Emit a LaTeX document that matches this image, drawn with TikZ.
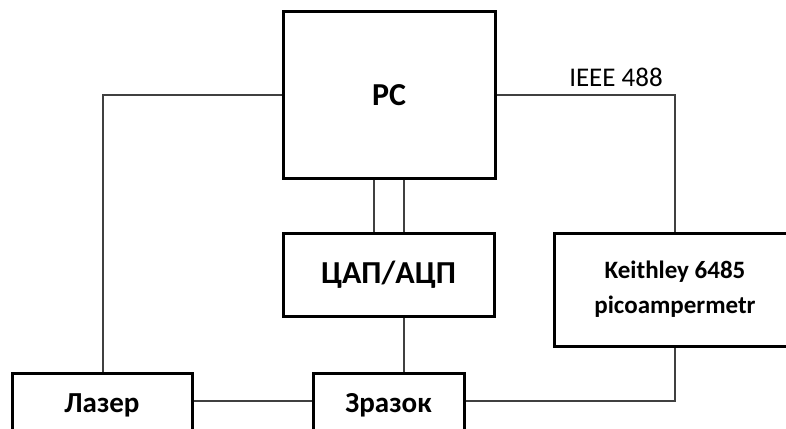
\documentclass[tikz,border=0pt]{standalone}
\usepackage{fontspec}
\setmainfont{Carlito}
\begin{document}
\begin{tikzpicture}[x=1pt,y=-1pt,
  blk/.style={draw=black,line width=3pt,fill=white,inner sep=0pt,font=\bfseries},
  wire/.style={draw=black!75,line width=1.4pt}]
\useasboundingbox (0,0) rectangle (786,428);
\clip (0,0) rectangle (786,428);
\node[blk,minimum width=212pt,minimum height=166pt,font=\bfseries\fontsize{32}{36}\selectfont] (pc) at (389,95) {PC};
\node[blk,minimum width=211pt,minimum height=83pt,font=\bfseries\fontsize{32}{36}\selectfont] (dac) at (388.5,274.5) {ЦАП/АЦП};
\node[blk,minimum width=242pt,minimum height=113pt,align=center,font=\bfseries\fontsize{25}{35}\selectfont] (kei) at (675,289.5) {Keithley 6485\\picoampermetr};
\node[blk,minimum width=180pt,minimum height=64pt,font=\bfseries\fontsize{29}{32}\selectfont] (las) at (102,405) {Лазер};
\node[blk,minimum width=151pt,minimum height=64pt,font=\bfseries\fontsize{29}{32}\selectfont] (zr) at (388.5,405) {Зразок};
\coordinate (c1) at (103,95);
\coordinate (c2) at (675,95);
\coordinate (c3) at (675,401);
\draw[wire] (pc.west) -- (c1) -- (las.north -| c1);
\draw[wire] (pc.east) -- (c2) -- (kei.north);
\node[font=\fontsize{27}{30}\selectfont,anchor=base] (ieee) at (616,86) {IEEE 488};
\draw[wire] (pc.south -| 374,0) -- (dac.north -| 374,0);
\draw[wire] (pc.south -| 404,0) -- (dac.north -| 404,0);
\draw[wire] (dac.south -| 404,0) -- (zr.north -| 404,0);
\draw[wire] (las.east |- 0,401) -- (zr.west |- 0,401);
\draw[wire] (zr.east |- 0,401) -- (c3) -- (kei.south);
\end{tikzpicture}
\end{document}
